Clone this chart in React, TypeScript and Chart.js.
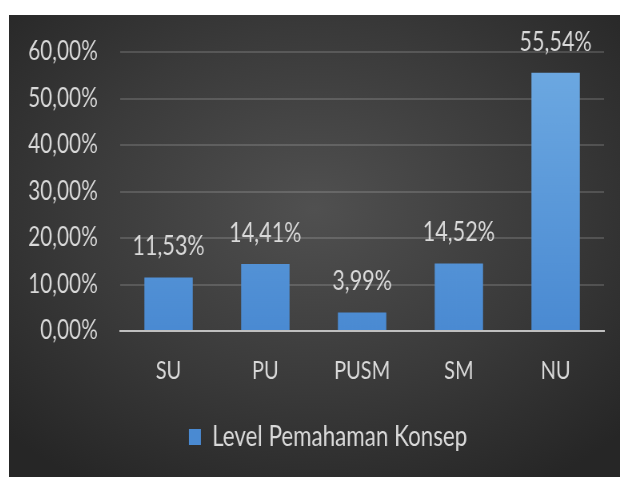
import React, { useEffect, useRef } from "react";
import { Chart, registerables } from "chart.js";

Chart.register(...registerables);

const categories = ["SU", "PU", "PUSM", "SM", "NU"];
const values = [11.53, 14.41, 3.99, 14.52, 55.54];
const seriesName = "Level Pemahaman Konsep";
const yTicks = [0, 10, 20, 30, 40, 50, 60];

const FONT = "Lato, 'Open Sans', sans-serif";
const TEXT = "#d9d9d9";

// the reference is horizontally condensed: draw wider, then squeeze the canvas
const OUT_W = 611;
const OUT_H = 462;
const SX = 0.8;
const CW = Math.round(OUT_W / SX);

const fmt = (v: number) => v.toFixed(2).replace(".", ",") + "%";

const dataLabels = {
  id: "dataLabels",
  afterDatasetsDraw(chart: any) {
    const ctx = chart.ctx;
    const meta = chart.getDatasetMeta(0);
    ctx.save();
    ctx.font = `27px ${FONT}`;
    ctx.fillStyle = TEXT;
    ctx.textAlign = "center";
    ctx.textBaseline = "alphabetic";
    meta.data.forEach((bar: any, i: number) => {
      ctx.fillText(fmt(values[i]), bar.x, bar.y - 22);
    });
    ctx.restore();
  },
};

const legendShift = {
  id: "legendShift",
  afterLayout(chart: any) {
    const lg = chart.legend;
    if (lg) {
      lg.left += 27;
      lg.right += 27;
    }
  },
};

export default function App() {
  const ref = useRef<HTMLCanvasElement | null>(null);
  useEffect(() => {
    if (!ref.current) return;
    const chart = new Chart(ref.current, {
      type: "bar",
      data: {
        labels: categories,
        datasets: [
          {
            label: seriesName,
            data: values,
            backgroundColor: (c: any) => {
              const area = c.chart.chartArea;
              if (!area || c.type !== "data") return "#4f8fd6";
              const g = c.chart.ctx.createLinearGradient(0, area.top, 0, area.bottom);
              g.addColorStop(0, "#6eaae2");
              g.addColorStop(1, "#4a8ad2");
              return g;
            },
            categoryPercentage: 1,
            barPercentage: 0.5,
          },
        ],
      },
      options: {
        responsive: false,
        animation: false,
        layout: { padding: { top: 37, right: 20, bottom: 16, left: 0 } },
        plugins: {
          legend: {
            position: "bottom",
            labels: {
              color: TEXT,
              font: { family: FONT, size: 28 },
              boxWidth: 15,
              boxHeight: 16,
              padding: 10,
            },
          },
          tooltip: { enabled: false },
        },
        scales: {
          x: {
            grid: { display: false, drawTicks: false },
            border: { display: true, color: "#bfbfbf", width: 2 },
            ticks: { color: TEXT, font: { family: FONT, size: 25 }, padding: 25 },
            afterFit: (axis: any) => {
              axis.height = 82;
            },
          },
          y: {
            min: 0,
            max: 60,
            afterBuildTicks: (axis: any) => {
              axis.ticks = yTicks.map((v) => ({ value: v }));
            },
            grid: {
              color: (c: any) => (c.tick && c.tick.value === 0 ? "rgba(0,0,0,0)" : "rgba(255,255,255,0.15)"),
              lineWidth: 2,
              drawTicks: false,
            },
            border: { display: false },
            ticks: {
              color: TEXT,
              font: { family: FONT, size: 26 },
              padding: 28,
              callback: (v: any) => fmt(Number(v)),
            },
            afterFit: (axis: any) => {
              axis.width = 139;
              axis.paddingTop = 0;
              axis.paddingBottom = 0;
            },
          },
        },
      },
      plugins: [dataLabels, legendShift],
    } as any);
    return () => chart.destroy();
  }, []);

  return (
    <div
      style={{
        position: "fixed",
        left: 9,
        top: 15,
        width: OUT_W,
        height: OUT_H,
        overflow: "hidden",
        background: "radial-gradient(ellipse 70% 70% at 50% 42%, #505050 0%, #3a3a3a 55%, #262626 100%)",
      }}
    >
      <canvas
        ref={ref}
        width={CW}
        height={OUT_H}
        style={{
          display: "block",
          width: CW,
          height: OUT_H,
          transform: `scaleX(${OUT_W / CW})`,
          transformOrigin: "0 0",
        }}
      />
    </div>
  );
}
